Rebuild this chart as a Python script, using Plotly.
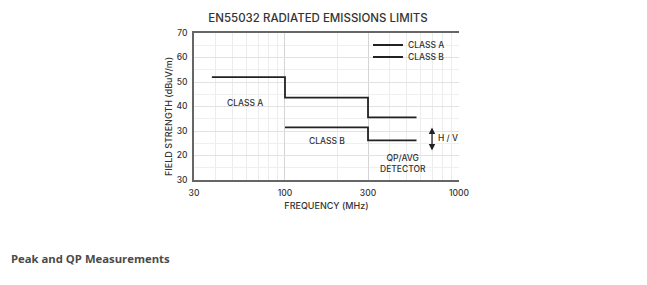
import plotly.graph_objects as go

# ---- data ----
class_a_freq = [38, 100, 300, 570]
class_a_level = [52, 43.6, 35.6, 35.6]
class_b_freq = [100, 300, 570]
class_b_level = [31.5, 26.2, 26.2]

x_ticks = [30, 100, 300, 1000]
x_minor = [40, 50, 60, 70, 80, 90, 200, 400, 500, 600, 700, 800, 900]
y_ticks = [10, 20, 30, 40, 50, 60, 70]
y_ticktext = ["30", "20", "30", "40", "50", "60", "70"]
y_minor = [15, 25, 35, 45, 55, 65]

FONT = "Inter, Liberation Sans, Arial, sans-serif"
INK = "#333333"
W = 500


def f(size, color=INK, weight=W):
    return dict(size=size, family=FONT, color=color, weight=weight)


fig = go.Figure()
fig.add_trace(go.Scatter(x=class_a_freq, y=class_a_level, mode="lines", line_shape="hv",
                         name="CLASS A", legend="legend",
                         line=dict(color="#222222", width=1.8)))
fig.add_trace(go.Scatter(x=class_b_freq, y=class_b_level, mode="lines", line_shape="hv",
                         name="CLASS B", legend="legend2",
                         line=dict(color="#222222", width=1.8)))

leg_common = dict(xanchor="left", yanchor="middle", bgcolor="rgba(0,0,0,0)",
                  font=f(8.5), itemwidth=30, borderwidth=0)
fig.update_layout(
    width=647, height=285,
    margin=dict(l=194, r=188, t=33, b=105),
    paper_bgcolor="white", plot_bgcolor="white",
    font=f(8),
    showlegend=True,
    legend=dict(x=(368-194)/265, y=(180-45)/147, **leg_common),
    legend2=dict(x=(368-194)/265, y=(180-57)/147, **leg_common),
    title=dict(text="EN55032 RADIATED EMISSIONS LIMITS", x=318/647, xanchor="center",
               y=1-18/285, yanchor="middle", font=f(11.5)),
)

fig.update_xaxes(
    type="log", range=[1.4771, 3.0],
    tickvals=x_ticks, ticktext=[str(v) for v in x_ticks],
    showgrid=True, gridcolor="#d4d4d4", gridwidth=1,
    minor=dict(tickvals=x_minor, showgrid=True, gridcolor="#ececec", gridwidth=1, ticks=""),
    showline=True, linecolor="#666666", linewidth=1.5, mirror=True,
    ticks="", tickfont=f(8.5), ticklabelstandoff=4,
    title=dict(text="FREQUENCY (MHz)", font=f(9), standoff=6),
    zeroline=False,
)
fig.update_yaxes(
    range=[10, 70],
    tickvals=y_ticks, ticktext=y_ticktext,
    showgrid=True, gridcolor="#e2e2e2", gridwidth=1,
    minor=dict(tickvals=y_minor, showgrid=True, gridcolor="#efefef", gridwidth=1, ticks=""),
    showline=True, linecolor="#666666", linewidth=1.5,
    ticks="", tickfont=f(8.5), ticklabelstandoff=3,
    zeroline=False,
)

# y-axis title (placed slightly below centre as in the source)
fig.add_annotation(x=(168-194)/265, y=(180-117)/147, xref="paper", yref="paper",
                   text="FIELD STRENGTH (dBuV/m)", textangle=-90, showarrow=False,
                   xanchor="center", yanchor="middle", font=f(9))

# labels
fig.add_annotation(x=1.77, y=41.4, xref="x", yref="y", text="CLASS A", showarrow=False, font=f(8.5))
fig.add_annotation(x=2.243, y=25.9, xref="x", yref="y", text="CLASS B", showarrow=False, font=f(8.5))
fig.add_annotation(x=2.676, y=16.9, xref="x", yref="y", text="QP/AVG<br>DETECTOR", showarrow=False,
                   font=f(8.5))
fig.add_annotation(x=2.845, y=22, ax=2.845, ay=32, xref="x", yref="y", axref="x", ayref="y",
                   text="", showarrow=True, arrowhead=2, arrowside="end+start",
                   arrowsize=1, arrowwidth=1.3, arrowcolor="#222222")
fig.add_annotation(x=2.87, y=27, xref="x", yref="y", xanchor="left", text="H / V", showarrow=False,
                   font=f(8.5))

fig.add_annotation(x=(9-194)/265, y=(180-258)/147, xref="paper", yref="paper",
                   xanchor="left", yanchor="middle", text="<b>Peak and QP Measurements</b>",
                   showarrow=False, font=dict(size=11.3, family="Open Sans, sans-serif", color="#4a4a4a"))

fig.write_html("out.html")
